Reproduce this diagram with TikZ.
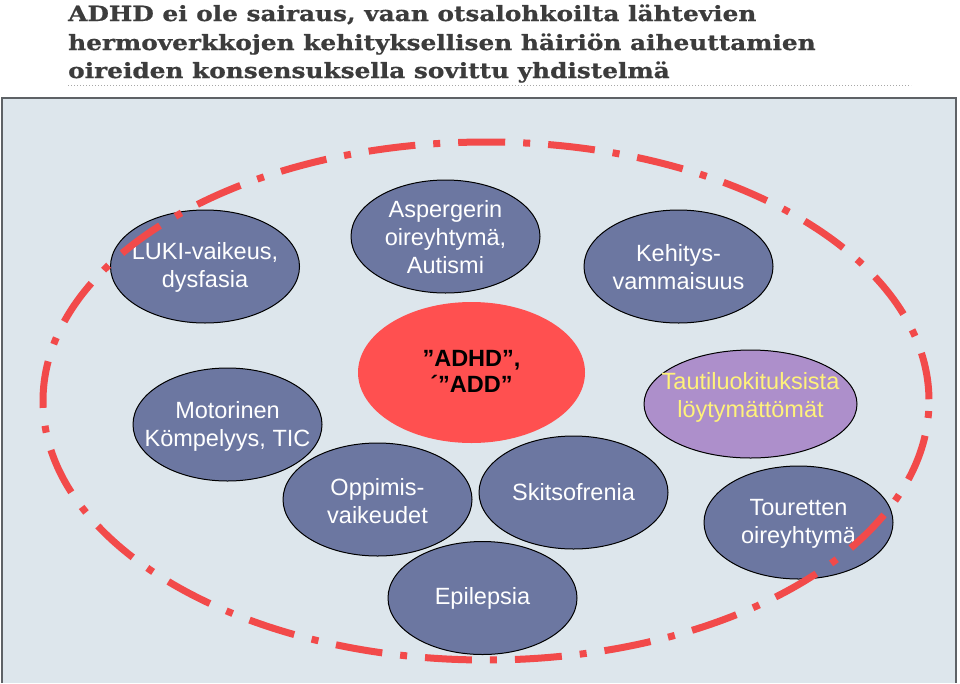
\documentclass[tikz,border=0pt]{standalone}
\usepackage{fontspec}
\setmainfont{Liberation Sans}
\newfontfamily\titlefont[FakeStretch=1.18,BoldFeatures={FakeBold=0.8}]{DejaVu Serif}
\usetikzlibrary{shapes.geometric}
\definecolor{boxfill}{HTML}{DDE6EC}
\definecolor{boxline}{HTML}{5E6266}
\definecolor{slate}{HTML}{6C77A1}
\definecolor{lilac}{HTML}{AD8FCB}
\definecolor{yel}{HTML}{FFF27A}
\definecolor{redfill}{HTML}{FF5050}
\definecolor{dashred}{HTML}{F24A4A}
\definecolor{titlegrey}{HTML}{3C3C3C}
\definecolor{dotgrey}{HTML}{A8A8A8}
\begin{document}
\begin{tikzpicture}[x=1pt,y=-1pt,
  ell/.style={ellipse, draw=black, line width=1pt, fill=slate, inner sep=0pt,
    minimum width=189pt, minimum height=113pt},
  txt/.style={align=center, text=white, font=\fontsize{23.5}{28}\selectfont},
  ttl/.style={anchor=base west, inner sep=0pt, text=titlegrey,
    font=\titlefont\bfseries\fontsize{21}{25}\selectfont}]
\useasboundingbox (0,0) rectangle (960,683);
% title
\node[ttl] (t1) at (68,21) {ADHD ei ole sairaus, vaan otsalohkoilta lähtevien};
\node[ttl] (t2) at (68,50) {hermoverkkojen kehityksellisen häiriön aiheuttamien};
\node[ttl] (t3) at (68,78) {oireiden konsensuksella sovittu yhdistelmä};
\coordinate (d1) at (68,85);
\coordinate (d2) at (911,85);
\draw[dotgrey, line width=1pt, dotted] (d1) -- (d2);
% panel
\fill[boxfill] (2,98) rectangle (956,683);
\draw[boxline, line width=2pt] (2,683) -- (2,98) -- (956,98) -- (956,683);
% ellipses
\node[ell] (luki) at (205,266.5) {};
\node[txt] (lukit) at (205,267) {LUKI-vaikeus,\\dysfasia};
\node[ell] (asp) at (445.5,236.5) {};
\node[txt] (aspt) at (445.5,237) {Aspergerin\\oireyhtymä,\\Autismi};
\node[ell] (keh) at (678.5,266.5) {};
\node[txt] (keht) at (678.5,267) {Kehitys-\\vammaisuus};
\node[ellipse, fill=redfill, inner sep=0pt, minimum width=227pt, minimum height=141pt] (adhd) at (471.5,372.5) {};
\node[align=center, text=black, font=\bfseries\fontsize{23.5}{26}\selectfont] (adhdt) at (471.5,371) {”ADHD”,\\´”ADD”};
\node[ell, fill=lilac, minimum width=213pt, minimum height=108pt] (taut) at (750.5,404) {};
\node[txt, text=yel] (tautt) at (750.5,397) {Tautiluokituksista\\löytymättömät};
\node[ell] (mot) at (227.5,424.5) {};
\node[txt] (mott) at (227.5,426) {Motorinen\\Kömpelyys, TIC};
\node[ell] (opp) at (377.5,499.5) {};
\node[txt] (oppt) at (377.5,501) {Oppimis-\\vaikeudet};
\node[ell] (skit) at (573.5,492.5) {};
\node[txt] (skitt) at (573.5,492.5) {Skitsofrenia};
\node[ell] (epi) at (482.5,598) {};
\node[txt] (epit) at (482.5,598) {Epilepsia};
\node[ell] (tou) at (798.5,522.5) {};
\node[txt] (tout) at (798.5,523.5) {Touretten\\oireyhtymä};
% dash-dot ellipse
\coordinate (c) at (486,401);
\draw[dashred, line width=7pt, dash pattern=on 47pt off 18pt on 7pt off 18pt, dash phase=55pt]
  (c) ellipse [x radius=443, y radius=259];
\end{tikzpicture}
\end{document}
